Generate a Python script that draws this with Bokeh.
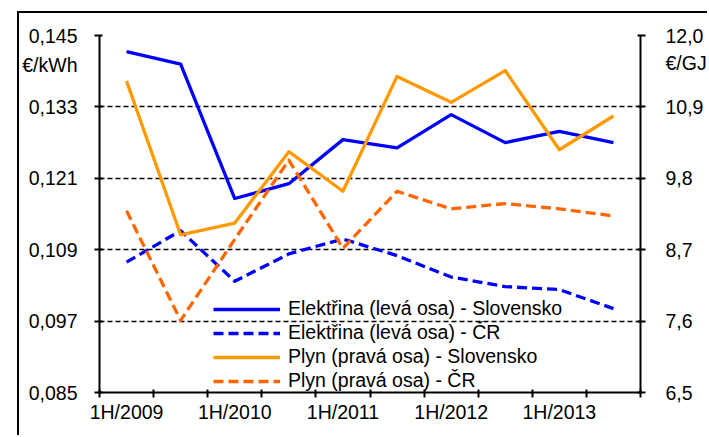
from bokeh.plotting import figure
from bokeh.models import (Range1d, LinearAxis, FixedTicker, CustomJSTickFormatter,
                          Legend, LegendItem)
from bokeh.embed import file_html
from bokeh.resources import INLINE

categories = ["1H/2009", "2H/2009", "1H/2010", "2H/2010", "1H/2011",
              "2H/2011", "1H/2012", "2H/2012", "1H/2013", "2H/2013"]
elec_sk = [0.1423, 0.1402, 0.1176, 0.1201, 0.1275, 0.1261, 0.1317, 0.1270, 0.1289, 0.1270]
elec_cz = [0.1069, 0.1122, 0.1037, 0.1083, 0.1108, 0.1080, 0.1044, 0.1028, 0.1023, 0.0991]
gas_sk = [11.30, 8.93, 9.11, 10.21, 9.60, 11.37, 10.97, 11.46, 10.24, 10.76]
gas_cz = [9.30, 7.61, 8.86, 10.08, 8.72, 9.60, 9.33, 9.41, 9.33, 9.22]
left_ticks = [0.085, 0.097, 0.109, 0.121, 0.133, 0.145]
right_ticks = [6.5, 7.6, 8.7, 9.8, 10.9, 12.0]
legend_labels = ["Elektřina (levá osa) - Slovensko", "Elektřina (levá osa) - ČR",
                 "Plyn (pravá osa) - Slovensko", "Plyn (pravá osa) - ČR"]
left_unit = "€/kWh"
right_unit = "€/GJ"
left_unit_pos = 0.1400
right_unit_pos = 11.58

FONT = "Liberation Sans"
FS = "19.5px"

n = len(categories)
xs = [i + 0.5 for i in range(n)]

p = figure(width=690, height=424, output_backend="svg", toolbar_location=None,
           x_range=Range1d(0, n), y_range=Range1d(left_ticks[0], left_ticks[-1]),
           min_border_left=78, min_border_right=65, min_border_top=22, min_border_bottom=45,
           outline_line_color=None, background_fill_color="white", border_fill_color="white",
           margin=(11, 0, 0, 17))
p.styles = {"border-left": "2px solid black", "border-top": "2px solid black"}
p.extra_y_ranges = {"right": Range1d(right_ticks[0], right_ticks[-1])}


def style_axis(ax, standoff):
    ax.major_tick_out = 0
    ax.major_tick_in = 0
    ax.major_tick_line_color = None
    ax.minor_tick_out = 5
    ax.minor_tick_in = 3
    ax.minor_tick_line_color = "black"
    ax.minor_tick_line_width = 2
    ax.axis_line_color = "black"
    ax.axis_line_width = 2
    ax.major_label_text_font = FONT
    ax.major_label_text_font_size = FS
    ax.major_label_text_color = "black"
    ax.major_label_standoff = standoff


# x axis: labels at 1H categories, tick marks at category boundaries
xa = p.xaxis[0]
xa.ticker = FixedTicker(ticks=[x for x, c in zip(xs, categories) if c.startswith("1H")],
                        minor_ticks=list(range(n + 1)))
xa.major_label_overrides = {x: c for x, c in zip(xs, categories) if c.startswith("1H")}
style_axis(xa, 3)

# left axis: value labels + unit label, tick marks at values
ya = p.yaxis[0]
ya.ticker = FixedTicker(ticks=left_ticks + [left_unit_pos], minor_ticks=left_ticks)
ya.formatter = CustomJSTickFormatter(code=(
    "if (Math.abs(tick - %r) < 1e-6) { return %r; } "
    "return tick.toFixed(3).replace('.', ',');" % (left_unit_pos, left_unit)))
style_axis(ya, 17)

# right axis
ra = LinearAxis(y_range_name="right",
                ticker=FixedTicker(ticks=right_ticks + [right_unit_pos], minor_ticks=right_ticks),
                formatter=CustomJSTickFormatter(code=(
                    "if (Math.abs(tick - %r) < 1e-6) { return %r; } "
                    "return tick.toFixed(1).replace('.', ',');" % (right_unit_pos, right_unit))))
style_axis(ra, 20)
p.add_layout(ra, "right")

p.xgrid.grid_line_color = None
p.ygrid.ticker = FixedTicker(ticks=left_ticks)
p.ygrid.grid_line_color = "black"
p.ygrid.grid_line_dash = "5 3"
p.ygrid.grid_line_width = 1.3

lw = 3.3
r1 = p.line(xs, elec_sk, line_color="#0000FF", line_width=lw, line_join="round")
r2 = p.line(xs, elec_cz, line_color="#0000FF", line_width=lw, line_dash="10 5", line_join="round")
r3 = p.line(xs, gas_sk, line_color="#FF9900", line_width=lw, y_range_name="right", line_join="round")
r4 = p.line(xs, gas_cz, line_color="#FF6600", line_width=lw, line_dash="10 5",
            y_range_name="right", line_join="round")

legend = Legend(items=[LegendItem(label=l, renderers=[r]) for l, r in zip(legend_labels, [r1, r2, r3, r4])],
                location=(114, 0), orientation="vertical",
                glyph_width=67, glyph_height=20, label_height=20, label_standoff=8, spacing=1,
                padding=0, margin=0, border_line_color=None, background_fill_alpha=0,
                label_text_font=FONT, label_text_font_size=FS, label_text_color="black")
p.add_layout(legend, "center")

open("out.html", "w").write(file_html(p, INLINE))
